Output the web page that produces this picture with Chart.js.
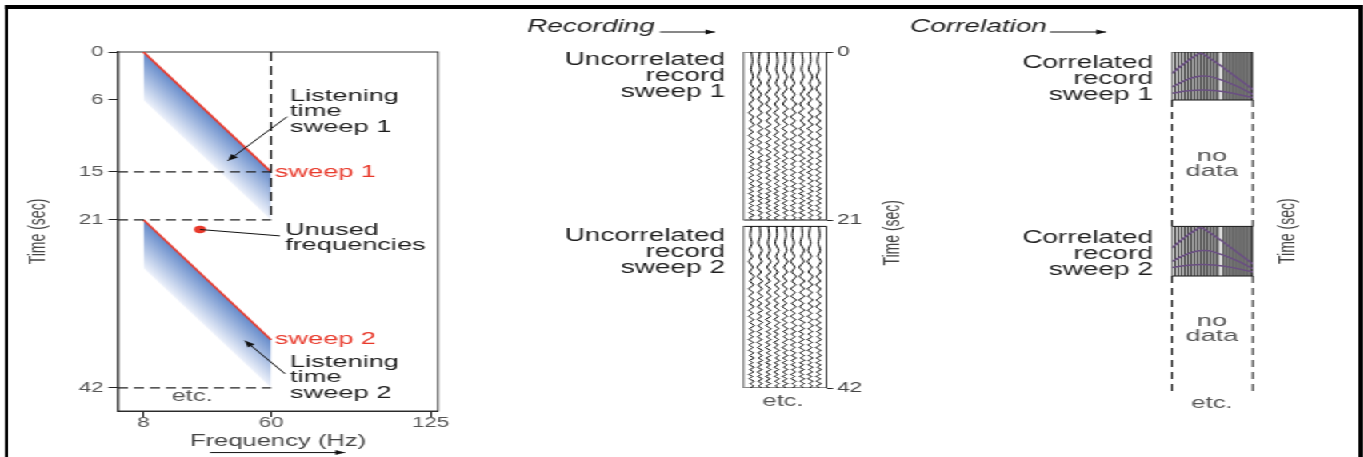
<!DOCTYPE html>
<html><head><meta charset="utf-8">
<script src="https://cdn.jsdelivr.net/npm/chart.js@4.4.1/dist/chart.umd.min.js"></script>
<style>
html,body{margin:0;padding:0;background:#fff;overflow:hidden;width:1363px;height:457px}
#wrap{position:absolute;left:0;top:0;width:852px;height:457px;transform:scaleX(1.6);transform-origin:0 0}
.box{position:absolute;top:0;height:457px}
#frame{position:absolute;left:3.1px;top:5px;width:848.9px;height:520px;border-style:solid;border-color:#000;border-width:4px 3.5px 0 2.5px;box-sizing:border-box}
</style></head><body>
<div id="wrap">
 <div id="frame"></div>
 <div class="box" style="left:0;width:300px"><canvas id="c1"></canvas></div>
 <div class="box" style="left:320px;width:280px"><canvas id="c2"></canvas></div>
 <div class="box" style="left:560px;width:290px"><canvas id="c3"></canvas></div>
</div>
<script>
const FONT = "'Liberation Sans', Arial, Helvetica, sans-serif";

// ---------- Panel 1: sweep frequency vs time ----------
const freqTicks = [8, 60, 125];
const timeTicks = [0, 6, 15, 21, 42];
const sweepFreq = [8, 60];
const sweep1Time = [0, 15];
const sweep1ListenEnd = [6, 21];
const sweep2Time = [21, 36];
const sweep2ListenEnd = [27, 42];
const guideTimes = [15, 21, 42];
const unusedFreq = [31];
const unusedTime = [22.2];

// ---------- Panel 2: uncorrelated records ----------
const recordTicks = [0, 21, 42];
const recordBoxes = [[0, 21], [21.8, 42]];
const recordBounds = [0, 10];
const traceX = [1, 2, 3, 4, 5, 6, 7, 8, 9];
const wiggleTimes1 = [0, 1.2, 2.2, 3.1, 3.9, 4.6, 5.3, 5.9, 6.5, 7.1, 7.6, 8.1, 8.6, 9.1, 9.55, 10.0, 10.45, 10.9, 11.3, 11.7, 12.1, 12.5, 12.9, 13.3, 13.65, 14.0, 14.35, 14.7, 15.05, 15.4, 15.75, 16.1, 16.45, 16.8, 17.1, 17.4, 17.7, 18.0, 18.3, 18.6, 18.9, 19.2, 19.5, 19.8, 20.1, 20.4, 20.7, 21.0];
const wiggleTimes2 = [21.8, 22.95, 23.9, 24.8, 25.55, 26.2, 26.9, 27.5, 28.05, 28.65, 29.1, 29.6, 30.05, 30.55, 31.0, 31.4, 31.85, 32.3, 32.65, 33.05, 33.45, 33.8, 34.2, 34.6, 34.95, 35.25, 35.6, 35.95, 36.3, 36.6, 36.95, 37.3, 37.6, 37.95, 38.25, 38.55, 38.85, 39.1, 39.4, 39.7, 40.0, 40.3, 40.55, 40.85, 41.15, 41.45, 41.7, 42.0];
const wiggleA = [0, 0.12, -0.05, 0.2, -0.1, 0.3, -0.14, 0.26, -0.22, 0.18, -0.3, 0.22, -0.12, 0.3, -0.24, 0.16, -0.3, 0.28, -0.18, 0.25, -0.3, 0.2, -0.25, 0.32, -0.2, 0.26, -0.16, 0.3, -0.25, 0.2, -0.32, 0.25, -0.18, 0.3, -0.26, 0.2, -0.3, 0.25, -0.16, 0.3, -0.25, 0.18, -0.3, 0.22, -0.28, 0.3, -0.2, 0.05];
const wiggleB = [0, -0.15, 0.06, -0.24, 0.12, -0.3, 0.16, -0.2, 0.3, -0.16, 0.24, -0.3, 0.18, -0.25, 0.32, -0.2, 0.25, -0.28, 0.16, -0.3, 0.25, -0.18, 0.32, -0.22, 0.26, -0.25, 0.18, -0.32, 0.22, -0.26, 0.16, -0.3, 0.25, -0.2, 0.32, -0.22, 0.16, -0.26, 0.3, -0.16, 0.25, -0.3, 0.14, -0.26, 0.3, -0.12, 0.2, -0.05];
const wiggleC = [0, 0.05, -0.18, 0.25, -0.08, 0.22, -0.3, 0.14, -0.26, 0.3, -0.18, 0.25, -0.2, 0.28, -0.32, 0.18, -0.22, 0.3, -0.25, 0.16, -0.28, 0.32, -0.18, 0.25, -0.3, 0.2, -0.26, 0.22, -0.32, 0.18, -0.25, 0.3, -0.22, 0.26, -0.16, 0.32, -0.25, 0.2, -0.28, 0.24, -0.3, 0.16, -0.24, 0.3, -0.2, 0.26, -0.1, 0.15];
const tracePattern1 = ['A', 'B', 'C', 'A', 'C', 'B', 'A', 'C', 'B'];
const tracePattern2 = ['B', 'C', 'A', 'C', 'A', 'B', 'C', 'B', 'A'];

// ---------- Panel 3: correlated records ----------
const corrBoxes = [[0, 6], [21.8, 28]];
const noDataSpans = [[6, 21.8], [28, 42.9]];
const corrBounds = [0, 10];
const corrTraceX = [0.4, 0.8, 1.2, 1.6, 2.0, 2.4, 2.8, 3.2, 3.6, 4.0, 4.4, 4.8, 5.2, 5.6, 6.4, 6.8, 7.2, 7.6, 8.0, 8.4, 8.8, 9.2, 9.6];
const arc1X = [0, 1, 2, 3, 3.5, 4, 5, 6, 7, 8, 9, 10];
const arc1T = [2.7, 1.85, 1.05, 0.4, 0.15, 0.35, 1.0, 1.7, 2.45, 3.2, 3.95, 4.7];
const arc2X = [0, 1, 2, 3, 3.8, 4.6, 5.5, 6.5, 7.5, 8.5, 10];
const arc2T = [4.4, 3.85, 3.4, 3.1, 3.0, 3.05, 3.3, 3.65, 4.05, 4.5, 5.3];
const arc3X = [0, 2, 3.8, 5.5, 7.5, 10];
const arc3T = [5.15, 4.85, 4.75, 4.85, 5.15, 5.7];
const arc1T2 = [24.5, 23.65, 22.85, 22.2, 21.95, 22.15, 22.8, 23.5, 24.25, 25.0, 25.75, 26.5];
const arc2T2 = [26.2, 25.65, 25.2, 24.9, 24.8, 24.85, 25.1, 25.45, 25.85, 26.3, 27.1];
const arc3T2 = [26.95, 26.65, 26.55, 26.65, 26.95, 27.5];

// ---------- helpers ----------
const RED = '#e8392b';
const FREQ_MIN = -2.4, FREQ_MAX = 128;
const pts = (xs, ys) => xs.map((x, i) => ({x: x, y: ys[i]}));

const annot = {
  id: 'annot',
  afterDraw(chart, args, opts) {
    const ctx = chart.ctx, xs = chart.scales.x, ys = chart.scales.y;
    const X = v => xs.getPixelForValue(v), Y = v => ys.getPixelForValue(v);
    for (const it of (opts.items || [])) {
      ctx.save();
      if (it.type === 'text') {
        ctx.font = (it.italic ? 'italic ' : '') + (it.size || 17) + 'px ' + FONT;
        ctx.fillStyle = it.color || '#1e1e1e';
        ctx.textAlign = it.align || 'left';
        ctx.textBaseline = 'middle';
        let px = X(it.x), py = Y(it.y);
        if (it.rotate) { ctx.translate(px, py); ctx.rotate(it.rotate * Math.PI / 180); px = 0; py = 0; }
        it.lines.forEach((s, i) => ctx.fillText(s, px, py + i * (it.lh || 16)));
      } else {
        const x1 = X(it.from[0]), y1 = Y(it.from[1]), x2 = X(it.to[0]), y2 = Y(it.to[1]);
        ctx.strokeStyle = ctx.fillStyle = it.color || '#111';
        ctx.lineWidth = it.width || 1;
        ctx.beginPath(); ctx.moveTo(x1, y1); ctx.lineTo(x2, y2); ctx.stroke();
        if (it.type === 'arrow') {
          const a = Math.atan2(y2 - y1, x2 - x1), h = it.head || 6, w = h * 0.42;
          const bx = x2 - h * Math.cos(a), by = y2 - h * Math.sin(a);
          ctx.beginPath(); ctx.moveTo(x2, y2);
          ctx.lineTo(bx + w * Math.sin(a), by - w * Math.cos(a));
          ctx.lineTo(bx - w * Math.sin(a), by + w * Math.cos(a));
          ctx.closePath(); ctx.fill();
        }
      }
      ctx.restore();
    }
  }
};

const frame = {
  id: 'frame',
  beforeDatasetsDraw(chart, args, opts) {
    if (!opts || !opts.on) return;
    const {ctx, chartArea: a} = chart;
    ctx.save(); ctx.strokeStyle = '#333'; ctx.lineWidth = 1;
    ctx.strokeRect(a.left, a.top, a.right - a.left, a.bottom - a.top);
    ctx.restore();
  }
};

function bandGradient(c, top, bottom) {
  const chart = c.chart, xs = chart.scales.x, ys = chart.scales.y;
  if (!chart.chartArea || !xs || !ys) return 'rgba(120,150,210,0.6)';
  const x1 = xs.getPixelForValue(top[0].x), y1 = ys.getPixelForValue(top[0].y);
  const x2 = xs.getPixelForValue(top[1].x), y2 = ys.getPixelForValue(top[1].y);
  const yb = ys.getPixelForValue(bottom[0].y);
  const dx = x2 - x1, dy = y2 - y1, len = Math.hypot(dx, dy);
  const nx = -dy / len, ny = dx / len, d = (yb - y1) * dx / len;
  const mx = (x1 + x2) / 2, my = (y1 + y2) / 2;
  const g = chart.ctx.createLinearGradient(mx, my, mx + nx * d, my + ny * d);
  g.addColorStop(0, 'rgb(100,138,202)');
  g.addColorStop(1, 'rgb(238,242,251)');
  return g;
}

const base = {
  responsive: true, maintainAspectRatio: false, animation: false, events: [],
  elements: { point: { radius: 0 }, line: { tension: 0, borderCapStyle: 'butt' } }
};

// ---------- Chart 1 ----------
const s1Top = pts(sweepFreq, sweep1Time), s1Bot = pts(sweepFreq, sweep1ListenEnd);
const s2Top = pts(sweepFreq, sweep2Time), s2Bot = pts(sweepFreq, sweep2ListenEnd);
const ds1 = [
  { data: pts(unusedFreq, unusedTime), showLine: false, pointRadius: 3.7, pointBackgroundColor: RED, pointBorderWidth: 0 },
  ...guideTimes.map(t => ({ data: [{x: FREQ_MIN, y: t}, {x: sweepFreq[1], y: t}], borderColor: '#222', borderWidth: 1.3, borderDash: [6.25, 3.75] })),
  { data: [{x: sweepFreq[1], y: sweep1Time[0]}, {x: sweepFreq[1], y: sweep2Time[0]}], borderColor: '#222', borderWidth: 1.2, borderDash: [9, 5] },
  { data: s1Top, borderColor: RED, borderWidth: 1.6, fill: '+1', backgroundColor: c => bandGradient(c, s1Top, s1Bot) },
  { data: s1Bot, borderColor: 'transparent', borderWidth: 0.01 },
  { data: s2Top, borderColor: RED, borderWidth: 1.6, fill: '+1', backgroundColor: c => bandGradient(c, s2Top, s2Bot) },
  { data: s2Bot, borderColor: 'transparent', borderWidth: 0.01 }
];

new Chart(document.getElementById('c1'), {
  type: 'line',
  data: { datasets: ds1 },
  plugins: [frame, annot],
  options: Object.assign({}, base, {
    layout: { padding: { left: 6, top: 52, right: 26.25, bottom: 0 } },
    scales: {
      x: {
        type: 'linear', min: FREQ_MIN, max: FREQ_MAX, position: 'bottom',
        afterBuildTicks: s => { s.ticks = freqTicks.map(v => ({value: v})); },
        afterFit: s => { s.height = 46; },
        ticks: { font: { family: FONT, size: 14 }, color: '#555', padding: -2.5, autoSkip: false, maxRotation: 0 },
        grid: { drawOnChartArea: false, drawTicks: true, tickLength: 6, color: '#222', lineWidth: 1 },
        border: { display: true, color: '#222', width: 1 },
        title: { display: true, text: 'Frequency (Hz)', color: '#444', font: { family: FONT, size: 16 }, padding: { top: 0, bottom: 5.5 } }
      },
      y: {
        type: 'linear', min: 0, max: 44.9, reverse: true, position: 'left',
        afterBuildTicks: s => { s.ticks = timeTicks.map(v => ({value: v})); },
        afterFit: s => { s.width = 67.75; },
        ticks: { font: { family: FONT, size: 14 }, color: '#555', padding: 3 },
        grid: { drawOnChartArea: false, drawTicks: true, tickLength: 6, color: '#222', lineWidth: 1 },
        border: { display: true, color: '#222', width: 1.3 },
        title: { display: true, text: 'Time (sec)', color: '#444', font: { family: FONT, size: 14 }, padding: { top: 9.35, bottom: 0 } }
      }
    },
    plugins: {
      legend: { display: false }, tooltip: { enabled: false },
      frame: { on: true },
      annot: { items: [
        { type: 'text', lines: ['Listening', 'time', 'sweep 1'], x: 67.7, y: 5.5, lh: 15.5, size: 17 },
        { type: 'arrow', from: [66.5, 8.1], to: [42.4, 13.6], head: 6.5 },
        { type: 'text', lines: ['sweep 1'], x: 61.5, y: 15, size: 17, color: RED },
        { type: 'line', from: [unusedFreq[0], unusedTime[0]], to: [63.6, 23.0] },
        { type: 'text', lines: ['Unused', 'frequencies'], x: 65.7, y: 22.25, lh: 15.5, size: 17 },
        { type: 'text', lines: ['sweep 2'], x: 61.5, y: 35.9, size: 17, color: RED },
        { type: 'text', lines: ['Listening', 'time', 'sweep 2'], x: 67.7, y: 38.8, lh: 15.5, size: 17 },
        { type: 'arrow', from: [65.7, 40.25], to: [49.35, 36.1], head: 6.5 },
        { type: 'text', lines: ['etc.'], x: 27.8, y: 43.06, align: 'center', size: 16, color: '#555' },
        { type: 'arrow', from: [35.1, 50.1], to: [90.1, 50.1], head: 6 }
      ] }
    }
  })
});

// ---------- Chart 2 ----------
const wig = { A: wiggleA, B: wiggleB, C: wiggleC };
const ds2 = [];
recordBoxes.forEach(([t0, t1]) => {
  ds2.push({ data: [{x: recordBounds[0], y: t0}, {x: recordBounds[0], y: t1}], borderColor: '#9a9a9a', borderWidth: 2 });
  ds2.push({ data: [{x: recordBounds[0], y: t0}, {x: recordBounds[1], y: t0}, {x: recordBounds[1], y: t1}, {x: recordBounds[0], y: t1}, {x: recordBounds[0], y: t0}], borderColor: '#111', borderWidth: 1 });
});
[[wiggleTimes1, tracePattern1], [wiggleTimes2, tracePattern2]].forEach(([times, pat]) => {
  traceX.forEach((x0, k) => {
    const w = wig[pat[k]];
    ds2.push({ data: times.map((t, i) => ({x: x0 + w[i], y: t})), borderColor: '#000', borderWidth: 1, tension: 0.25 });
  });
});

new Chart(document.getElementById('c2'), {
  type: 'line',
  data: { datasets: ds2 },
  plugins: [annot],
  options: Object.assign({}, base, {
    layout: { padding: { left: 144.4, top: 52, right: 28.1, bottom: 69 } },
    scales: {
      x: { type: 'linear', min: recordBounds[0], max: recordBounds[1], display: false },
      y: {
        type: 'linear', min: 0, max: 42, reverse: true, position: 'right',
        afterBuildTicks: s => { s.ticks = recordTicks.map(v => ({value: v})); },
        afterFit: s => { s.width = 55; },
        ticks: { font: { family: FONT, size: 14 }, color: '#444', padding: 2.5 },
        grid: { drawOnChartArea: false, drawTicks: true, tickLength: 3.75, color: '#222', lineWidth: 1 },
        border: { display: false }
      }
    },
    plugins: {
      legend: { display: false }, tooltip: { enabled: false },
      annot: { items: [
        { type: 'text', lines: ['Recording'], x: -25.7, y: -3.06, size: 17.5, italic: true },
        { type: 'arrow', from: [-9.89, -2.5], to: [-3.33, -2.5], head: 6 },
        { type: 'text', lines: ['Uncorrelated', 'record', 'sweep 1'], x: -2.15, y: 1.0, lh: 16, size: 17.5, align: 'right' },
        { type: 'text', lines: ['Uncorrelated', 'record', 'sweep 2'], x: -2.15, y: 23.0, lh: 16, size: 17.5, align: 'right' },
        { type: 'text', lines: ['etc.'], x: 4.76, y: 43.7, size: 16, align: 'center', color: '#555' },
        { type: 'text', lines: ['Time (sec)'], x: 17.83, y: 22.6, size: 14, align: 'center', rotate: -90, color: '#444' }
      ] }
    }
  })
});

// ---------- Chart 3 ----------
const ds3 = [];
const arcsByBox = [
  [[arc1X, arc1T], [arc2X, arc2T], [arc3X, arc3T]],
  [[arc1X, arc1T2], [arc2X, arc2T2], [arc3X, arc3T2]]
];
corrBoxes.forEach(([t0, t1], b) => {
  arcsByBox[b].forEach(([ax, at]) => ds3.push({ data: pts(ax, at), borderColor: '#6a4f82', borderWidth: 1.5, tension: 0.3 }));
  ds3.push({ data: corrTraceX.flatMap(x => [{x: x, y: t0}, {x: x, y: t1}, {x: x, y: null}]), borderColor: '#2a2a2a', borderWidth: 0.55, spanGaps: false });
  ds3.push({ data: [{x: corrBounds[0], y: t0}, {x: corrBounds[1], y: t0}, {x: corrBounds[1], y: t1}, {x: corrBounds[0], y: t1}, {x: corrBounds[0], y: t0}], borderColor: '#111', borderWidth: 1, fill: 'shape', backgroundColor: '#dcdcdc' });
});
noDataSpans.forEach(([t0, t1]) => {
  corrBounds.forEach(x => ds3.push({ data: [{x: x, y: t0}, {x: x, y: t1}], borderColor: '#222', borderWidth: 1.1, borderDash: [7, 5], clip: false }));
});

new Chart(document.getElementById('c3'), {
  type: 'line',
  data: { datasets: ds3 },
  plugins: [annot],
  options: Object.assign({}, base, {
    layout: { padding: { left: 172.5, top: 52, right: 31.9, bottom: 69 } },
    scales: {
      x: { type: 'linear', min: corrBounds[0], max: corrBounds[1], display: false },
      y: {
        type: 'linear', min: 0, max: 42, reverse: true, position: 'right',
        afterFit: s => { s.width = 35; },
        ticks: { display: false }, grid: { display: false }, border: { display: false }
      }
    },
    plugins: {
      legend: { display: false }, tooltip: { enabled: false },
      annot: { items: [
        { type: 'text', lines: ['Correlation'], x: -32.36, y: -3.06, size: 17.5, italic: true },
        { type: 'arrow', from: [-15.07, -2.5], to: [-8.15, -2.5], head: 6 },
        { type: 'text', lines: ['Correlated', 'record', 'sweep 1'], x: -2.35, y: 1.44, lh: 16, size: 17.5, align: 'right' },
        { type: 'text', lines: ['Correlated', 'record', 'sweep 2'], x: -2.35, y: 23.3, lh: 16, size: 17.5, align: 'right' },
        { type: 'text', lines: ['no', 'data'], x: 4.94, y: 13.06, lh: 15, size: 17, align: 'center', color: '#555' },
        { type: 'text', lines: ['no', 'data'], x: 4.94, y: 33.7, lh: 15, size: 17, align: 'center', color: '#555' },
        { type: 'text', lines: ['etc.'], x: 4.94, y: 43.9, size: 16, align: 'center', color: '#555' },
        { type: 'text', lines: ['Time (sec)'], x: 14.33, y: 22.4, size: 14, align: 'center', rotate: -90, color: '#444' }
      ] }
    }
  })
});
</script>
</body></html>
